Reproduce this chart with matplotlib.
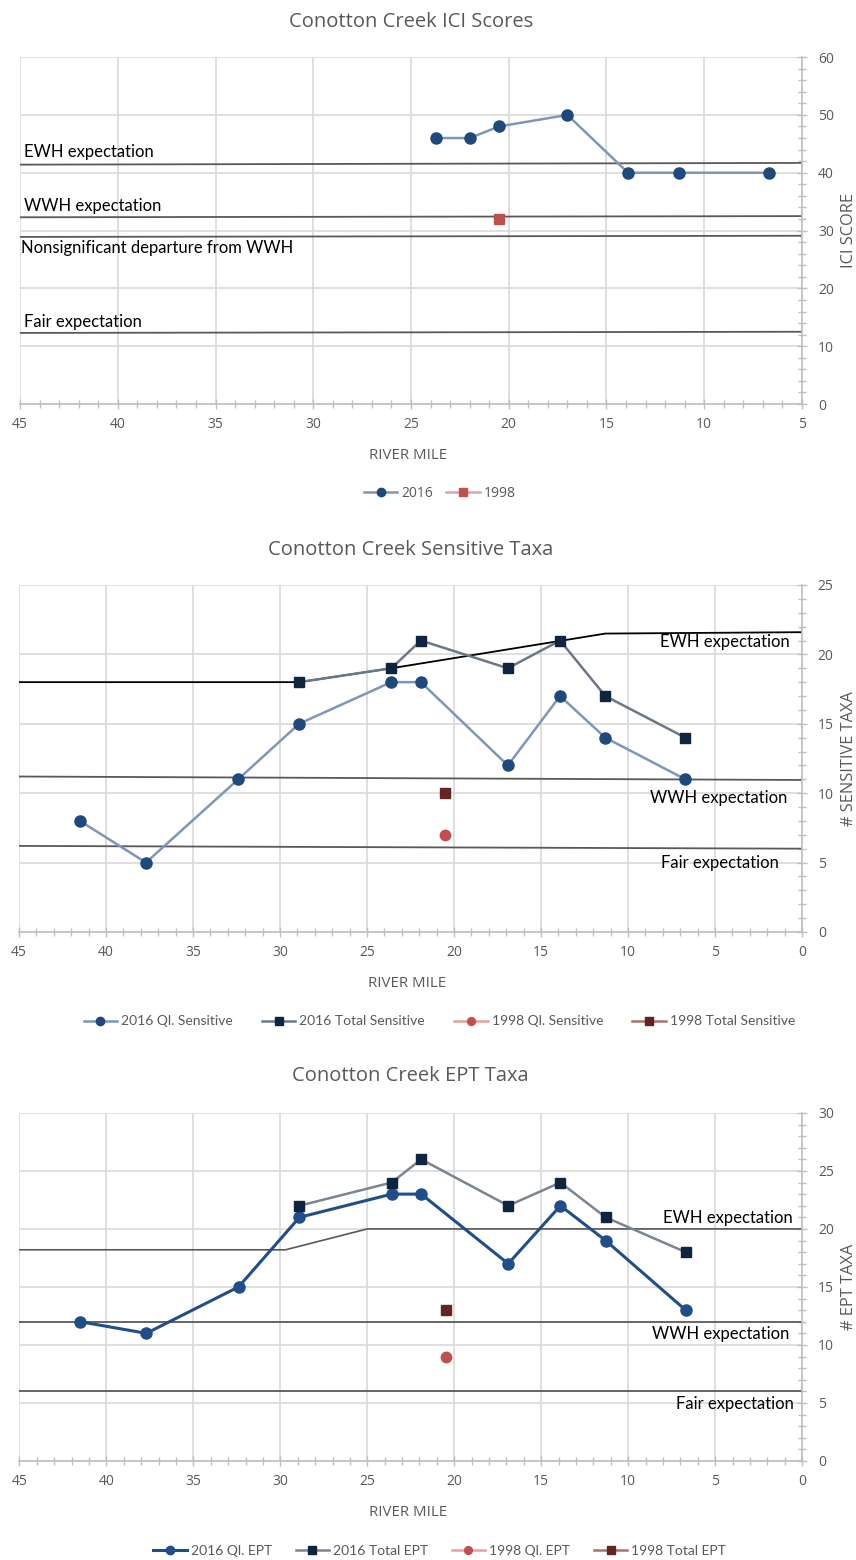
import numpy as np
import matplotlib
matplotlib.use("Agg")
import matplotlib.pyplot as plt
from matplotlib.ticker import MultipleLocator

plt.rcParams['font.family'] = ['Open Sans', 'DejaVu Sans']

# --- data ---
ici_miles_2016 = [23.7, 22.0, 20.5, 17.0, 13.9, 11.3, 6.7]
ici_2016 = [46, 46, 48, 50, 40, 40, 40]
ici_miles_1998 = [20.5]
ici_1998 = [32]
ici_ref_x = [45, 5]
ici_ewh = [41.4, 41.7]
ici_wwh = [32.3, 32.5]
ici_nsd = [28.9, 29.1]
ici_fair = [12.3, 12.5]

miles_2016 = [41.5, 37.7, 32.4, 28.9, 23.6, 21.9, 16.9, 13.9, 11.3, 6.7]
miles_total = [28.9, 23.6, 21.9, 16.9, 13.9, 11.3, 6.7]
miles_1998 = [20.5]

sens_ql_2016 = [8, 5, 11, 15, 18, 18, 12, 17, 14, 11]
sens_tot_2016 = [18, 19, 21, 19, 21, 17, 14]
sens_ql_1998 = [7]
sens_tot_1998 = [10]
sens_ewh_x = [45, 28.9, 23.6, 11.3, 0]
sens_ewh = [18, 18, 19, 21.5, 21.6]
sens_ref_x = [45, 0]
sens_wwh = [11.2, 10.95]
sens_fair = [6.2, 6.0]

ept_ql_2016 = [12, 11, 15, 21, 23, 23, 17, 22, 19, 13]
ept_tot_2016 = [22, 24, 26, 22, 24, 21, 18]
ept_ql_1998 = [9]
ept_tot_1998 = [13]
ept_ewh_x = [45, 29.7, 25, 0]
ept_ewh = [18.2, 18.2, 20, 20]
ept_ref_x = [45, 0]
ept_wwh = [12, 12]
ept_fair = [6, 6]

GRID = '#d9d9d9'
AXC = '#bfbfbf'
TXT = '#595959'
REF = '#595959'

fig = plt.figure(figsize=(8.56, 15.6), dpi=100)


def setup(ax, xmax, ymax, ystep, yminor, title, ylabel, ty):
    ax.set_xlim(45, xmax)
    ax.set_ylim(0, ymax)
    ax.xaxis.set_major_locator(MultipleLocator(5))
    ax.xaxis.set_minor_locator(MultipleLocator(1))
    ax.yaxis.set_major_locator(MultipleLocator(ystep))
    ax.yaxis.set_minor_locator(MultipleLocator(yminor))
    ax.yaxis.tick_right()
    ax.grid(True, which='major', color=GRID, lw=1.2, zorder=0)
    ax.set_axisbelow(True)
    for s in ['top', 'left']:
        ax.spines[s].set_visible(False)
    for s in ['bottom', 'right']:
        ax.spines[s].set_color(AXC)
        ax.spines[s].set_linewidth(1.2)
    ax.tick_params(which='both', direction='inout', color=AXC, width=1.0,
                   labelsize=10, labelcolor=TXT)
    ax.tick_params(which='major', length=7)
    ax.tick_params(which='minor', length=6)
    ax.tick_params(axis='y', which='both', left=False, right=True, pad=8)
    ax.tick_params(axis='x', pad=6)
    ax.text(0.5, ty, title, transform=ax.transAxes, ha='center', va='center',
            fontsize=14.5, color=TXT)
    ax.set_xlabel('RIVER MILE', fontsize=10.8, color=TXT)
    ax.xaxis.set_label_coords(0.496, -0.128)
    ax.yaxis.set_label_position('right')
    ax.set_ylabel(ylabel, fontsize=11.8, color=TXT, rotation=90,
                  ha='center', va='center')
    ax.yaxis.set_label_coords(1.06, 0.5)


def note(ax, x, y, s, ha='left'):
    ax.text(x, y, s, ha=ha, va='center', fontsize=12, color='black',
            family=['Lato', 'DejaVu Sans'], zorder=4)


def add_legend(ax, y, spacing, prop):
    ax.legend(loc='center', bbox_to_anchor=(0.537, y), ncol=4, frameon=False,
              prop=prop, labelcolor=TXT, handlelength=2.4,
              columnspacing=spacing, handletextpad=0.3, markerscale=0.75)


# --- ICI chart ---
ax1 = fig.add_axes([0.0234, 0.741, 0.9135, 0.2224])
setup(ax1, 5, 60, 10, 2, 'Conotton Creek ICI Scores', 'ICI SCORE', 1.101)
for vals in [ici_ewh, ici_wwh, ici_nsd, ici_fair]:
    ax1.plot(ici_ref_x, vals, color=REF, lw=1.3, zorder=2)
note(ax1, 44.8, 43.6, 'EWH expectation')
note(ax1, 44.8, 34.2, 'WWH expectation')
note(ax1, 44.95, 27.0, 'Nonsignificant departure from WWH')
note(ax1, 44.8, 14.2, 'Fair expectation')
ax1.plot(ici_miles_2016, ici_2016, '-o', color='#7f96b8', lw=1.8,
         mfc='#1f497d', mec='#1f497d', ms=8, label='2016', zorder=3)
ax1.plot(ici_miles_1998, ici_1998, '-s', color='#e6a09e', lw=1.8,
         mfc='#c0504d', mec='#c0504d', ms=7, label='1998', zorder=3)
add_legend(ax1, -0.257, 0.95, {'size': 10})

# --- Sensitive taxa chart ---
ax2 = fig.add_axes([0.0222, 0.4026, 0.9146, 0.2224])
setup(ax2, 0, 25, 5, 1, 'Conotton Creek Sensitive Taxa', '# SENSITIVE TAXA', 1.101)
ax2.plot(sens_ewh_x, sens_ewh, color='black', lw=1.3, zorder=2)
ax2.plot(sens_ref_x, sens_wwh, color=REF, lw=1.3, zorder=2)
ax2.plot(sens_ref_x, sens_fair, color=REF, lw=1.3, zorder=2)
note(ax2, 0.7, 20.9, 'EWH expectation', ha='right')
note(ax2, 0.86, 9.64, 'WWH expectation', ha='right')
note(ax2, 1.3, 4.95, 'Fair expectation', ha='right')
ax2.plot(miles_2016, sens_ql_2016, '-o', color='#7f96b8', lw=1.8,
         mfc='#1f497d', mec='#1f497d', ms=8, label='2016 Ql. Sensitive', zorder=3)
ax2.plot(miles_total, sens_tot_2016, '-s', color='#6b7888', lw=1.8,
         mfc='#0f243e', mec='#0f243e', ms=7.5, label='2016 Total Sensitive', zorder=3)
ax2.plot(miles_1998, sens_ql_1998, '-o', color='#e6a09e', lw=1.8,
         mfc='#c0504d', mec='#c0504d', ms=7.5, label='1998 Ql. Sensitive', zorder=3)
ax2.plot(miles_1998, sens_tot_1998, '-s', color='#a67372', lw=1.8,
         mfc='#632523', mec='#632523', ms=7.5, label='1998 Total Sensitive', zorder=3)
add_legend(ax2, -0.258, 2.1, {'family': ['Lato', 'DejaVu Sans'], 'size': 10})

# --- EPT taxa chart ---
ax3 = fig.add_axes([0.0226, 0.0635, 0.9146, 0.2231])
setup(ax3, 0, 30, 5, 1, 'Conotton Creek EPT Taxa', '# EPT TAXA', 1.106)
ax3.plot(ept_ewh_x, ept_ewh, color=REF, lw=1.2, zorder=2)
ax3.plot(ept_ref_x, ept_wwh, color=REF, lw=1.3, zorder=2)
ax3.plot(ept_ref_x, ept_fair, color=REF, lw=1.3, zorder=2)
note(ax3, 0.53, 20.9, 'EWH expectation', ha='right')
note(ax3, 0.76, 10.9, 'WWH expectation', ha='right')
note(ax3, 0.48, 4.9, 'Fair expectation', ha='right')
ax3.plot(miles_2016, ept_ql_2016, '-o', color='#1f4e89', lw=2.2,
         mfc='#1f4e89', mec='#1f4e89', ms=8, label='2016 Ql. EPT', zorder=3)
ax3.plot(miles_total, ept_tot_2016, '-s', color='#7a8591', lw=1.8,
         mfc='#0f243e', mec='#0f243e', ms=7.5, label='2016 Total EPT', zorder=3)
ax3.plot(miles_1998, ept_ql_1998, '-o', color='#e6a09e', lw=1.8,
         mfc='#c0504d', mec='#c0504d', ms=7.5, label='1998 Ql. EPT', zorder=3)
ax3.plot(miles_1998, ept_tot_1998, '-s', color='#a67372', lw=1.8,
         mfc='#632523', mec='#632523', ms=7.5, label='1998 Total EPT', zorder=3)
add_legend(ax3, -0.258, 1.7, {'family': ['Lato', 'DejaVu Sans'], 'size': 10})

fig.savefig('out.png', dpi=100)
